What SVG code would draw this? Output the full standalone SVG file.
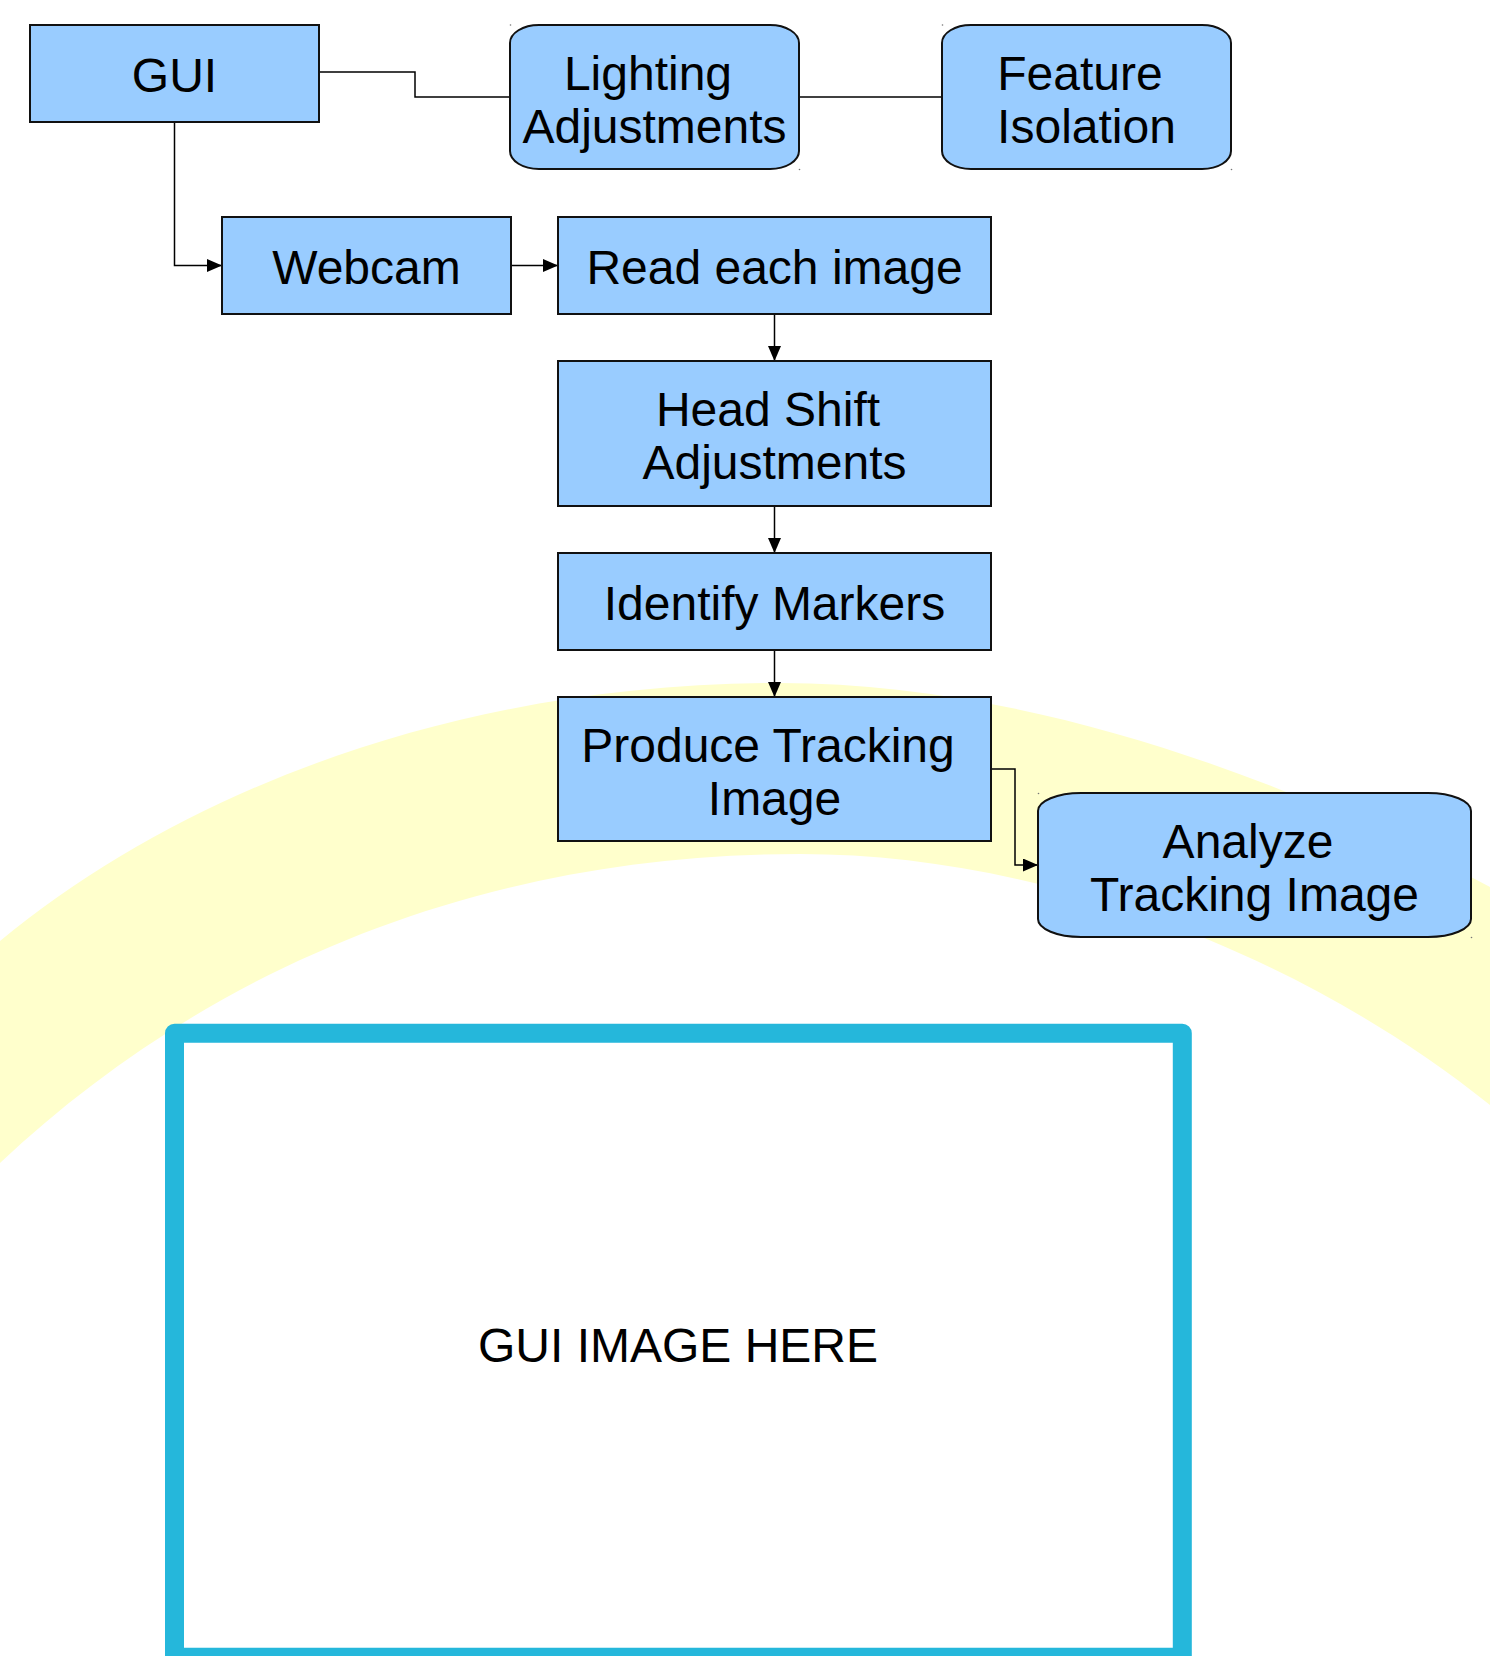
<svg xmlns="http://www.w3.org/2000/svg" width="1490" height="1656" viewBox="0 0 1490 1656">
  <style>
    .box { fill: #99ccff; stroke: #111; stroke-width: 2; }
    .lbl { font-family: "Liberation Sans", Arial, sans-serif; font-size: 48px; fill: #000; text-anchor: middle; }
    .conn { fill: none; stroke: #000; stroke-width: 1.5; }
    .dot { fill: #777; }
  </style>
  <defs>
    <marker id="arr" markerUnits="userSpaceOnUse" markerWidth="15" markerHeight="13" refX="15" refY="6.5" orient="auto">
      <path d="M0,0 L15,6.5 L0,13 z" fill="#000"/>
    </marker>
  </defs>
  <rect width="1490" height="1656" fill="#fff"/>

  <!-- yellow background band -->
  <path d="M0,941 C200,777 480,683 780,683 C1030,683 1290,780 1490,887 L1490,1105 C1290,945 1030,854 800,854 C470,854 200,975 0,1163 Z" fill="#ffffcc"/>

  <!-- GUI image frame -->
  <g id="gui-image-frame">
    <rect x="174.5" y="1033.3" width="1007.8" height="624" fill="#fff" stroke="#25b7db" stroke-width="19" stroke-linejoin="round"/>
    <text class="lbl" x="678" y="1362">GUI IMAGE HERE</text>
  </g>

  <g id="connectors">
    <path class="conn" d="M319,72 H415 V97 H510"/>
    <path class="conn" d="M799,97 H942"/>
    <path class="conn" d="M174.5,122 V265.5 H222" marker-end="url(#arr)"/>
    <path class="conn" d="M511,265.5 H558" marker-end="url(#arr)"/>
    <path class="conn" d="M774.5,314 V361" marker-end="url(#arr)"/>
    <path class="conn" d="M774.5,506 V553" marker-end="url(#arr)"/>
    <path class="conn" d="M774.5,650 V697" marker-end="url(#arr)"/>
    <path class="conn" d="M991,769 H1015 V865 H1038" marker-end="url(#arr)"/>
  </g>

  <g id="n-gui">
    <rect class="box" x="30" y="25" width="289" height="97"/>
    <text class="lbl" x="174.5" y="91.5">GUI</text>
  </g>
  <g id="n-lighting">
    <rect class="box" x="510" y="25" width="289" height="144" rx="29" ry="18"/>
    <text class="lbl" x="648" y="90">Lighting</text>
    <text class="lbl" x="654.5" y="143">Adjustments</text>
    <circle class="dot" cx="510.5" cy="25" r="0.8"/>
    <circle class="dot" cx="799.5" cy="169.5" r="0.8"/>
  </g>
  <g id="n-feature">
    <rect class="box" x="942" y="25" width="289" height="144" rx="29" ry="18"/>
    <text class="lbl" x="1080" y="90">Feature</text>
    <text class="lbl" x="1086.5" y="143">Isolation</text>
    <circle class="dot" cx="942.5" cy="25" r="0.8"/>
    <circle class="dot" cx="1231.5" cy="169.5" r="0.8"/>
  </g>
  <g id="n-webcam">
    <rect class="box" x="222" y="217" width="289" height="97"/>
    <text class="lbl" x="366.5" y="284">Webcam</text>
  </g>
  <g id="n-read">
    <rect class="box" x="558" y="217" width="433" height="97"/>
    <text class="lbl" x="774.5" y="284">Read each image</text>
  </g>
  <g id="n-head">
    <rect class="box" x="558" y="361" width="433" height="145"/>
    <text class="lbl" x="768" y="426">Head Shift</text>
    <text class="lbl" x="774.5" y="479">Adjustments</text>
  </g>
  <g id="n-identify">
    <rect class="box" x="558" y="553" width="433" height="97"/>
    <text class="lbl" x="774.5" y="619.5">Identify Markers</text>
  </g>
  <g id="n-produce">
    <rect class="box" x="558" y="697" width="433" height="144"/>
    <text class="lbl" x="768" y="761.5">Produce Tracking</text>
    <text class="lbl" x="774.5" y="815">Image</text>
  </g>
  <g id="n-analyze">
    <rect class="box" x="1038" y="793" width="433" height="144" rx="43" ry="18"/>
    <text class="lbl" x="1248" y="857.5">Analyze</text>
    <text class="lbl" x="1254.5" y="911">Tracking Image</text>
    <circle class="dot" cx="1038.5" cy="793.5" r="0.8"/>
    <circle class="dot" cx="1471.5" cy="937.5" r="0.8"/>
  </g>
</svg>
